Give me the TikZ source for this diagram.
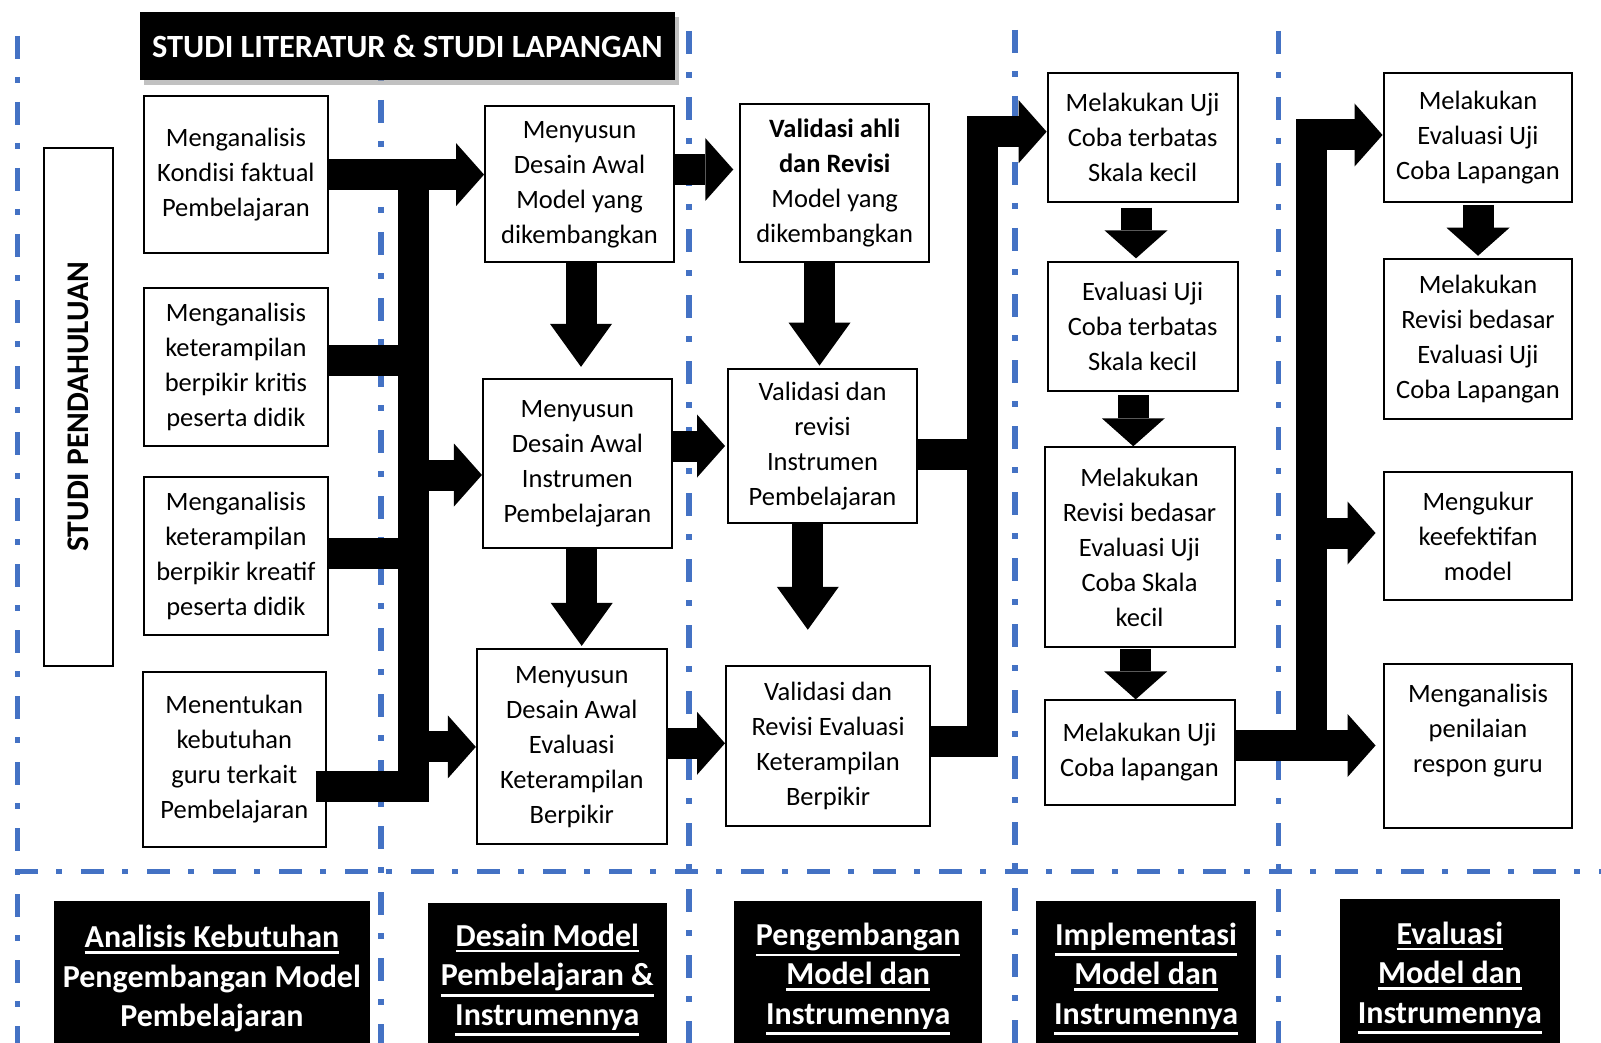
\documentclass[tikz,border=0pt]{standalone}
\usepackage{fontspec}
\setmainfont{Carlito}
\usepackage{tikz}
\usetikzlibrary{arrows.meta,shadows}
\definecolor{guideblue}{HTML}{4472C4}
\newcommand{\ulbar}[1]{\setbox0=\hbox{#1}\leavevmode\rlap{\rule[\dimexpr-\dp0-5.5pt\relax]{\wd0}{2.5pt}}\box0}

\begin{document}
\begin{tikzpicture}[x=1pt,y=-1pt,
    procbox/.style={draw,fill=white,line width=2pt,inner sep=0pt,align=center,font=\fontsize{26.5}{35}\selectfont},
    phasebox/.style={fill=black,text=white,inner sep=0pt,align=center,font=\bfseries\fontsize{32}{39.5}\selectfont},
    guide/.style={guideblue,line width=5.5pt,dash pattern=on 23pt off 18pt on 6pt off 19pt},
    fat/.style={line width=31pt},
    flow/.style={fat,-{Triangle[length=28pt,width=63pt,line width=0pt]}},
    drop/.style={fat,-{Triangle[length=43pt,width=62pt,line width=0pt]}}]
        \useasboundingbox[fill=white] (0,0) rectangle (1601,1043);
        \draw[guide] (17.4,36) -- (17.4,1043);
        \draw[guide] (380.8,34) -- (380.8,1043);
        \draw[guide] (689.2,31) -- (689.2,1043);
        \draw[guide] (1014.9,30) -- (1014.9,1043);
        \draw[guide] (1278.4,31) -- (1278.4,1043);
        \draw[guide] (15,871.7) -- (1601,871.7);
        \draw (407.4,46) node (title) [phasebox,font=\bfseries\fontsize{32.4}{39.5}\selectfont,drop shadow={shadow xshift=4pt,shadow yshift=-5pt,fill=black!40,opacity=0.6},minimum width=535pt,minimum height=67.3pt] {STUDI LITERATUR \& STUDI LAPANGAN};
        \draw (78.6,406.9) node (SP) [procbox,rotate=90,minimum width=517.6pt,minimum height=69.4pt,font=\bfseries\fontsize{31.5}{39.5}\selectfont] {STUDI PENDAHULUAN};
        \draw (235.9,174.6) node (B1) [procbox,minimum width=183.8pt,minimum height=157.2pt] {Menganalisis\\Kondisi faktual\\Pembelajaran};
        \draw (235.9,367.1) node (B2) [procbox,minimum width=183.8pt,minimum height=158.3pt] {Menganalisis\\keterampilan\\berpikir kritis\\peserta didik};
        \draw (235.9,556.0) node (B3) [procbox,minimum width=183.8pt,minimum height=158.3pt] {Menganalisis\\keterampilan\\berpikir kreatif\\peserta didik};
        \draw (234.3,759.2) node (B4) [procbox,minimum width=182.8pt,minimum height=174.6pt] {Menentukan\\kebutuhan\\guru terkait\\Pembelajaran};
        \draw (579.5,184.3) node (C1) [procbox,minimum width=188.9pt,minimum height=156.2pt] {Menyusun\\Desain Awal\\Model yang\\dikembangkan};
        \draw (577.4,463.6) node (C2) [procbox,minimum width=188.9pt,minimum height=169.5pt] {Menyusun\\Desain Awal\\Instrumen\\Pembelajaran};
        \draw (571.8,746.9) node (C3) [procbox,minimum width=189.9pt,minimum height=195pt] {Menyusun\\Desain Awal\\Evaluasi\\Keterampilan\\Berpikir};
        \draw (834.7,183.3) node (D1) [procbox,minimum width=188.9pt,minimum height=158.3pt] {\textbf{Validasi ahli}\\\textbf{dan Revisi}\\Model yang\\dikembangkan};
        \draw (822.5,445.7) node (D2) [procbox,minimum width=188.9pt,minimum height=154.2pt] {Validasi dan\\revisi\\Instrumen\\Pembelajaran};
        \draw (828.1,745.9) node (D3) [procbox,minimum width=204.2pt,minimum height=160.3pt] {Validasi dan\\Revisi Evaluasi\\Keterampilan\\Berpikir};
        \draw (1142.6,137.8) node (E1) [procbox,minimum width=189.9pt,minimum height=128.7pt] {Melakukan Uji\\Coba terbatas\\Skala kecil};
        \draw (1142.6,326.7) node (E2) [procbox,minimum width=189.9pt,minimum height=128.7pt] {Evaluasi Uji\\Coba terbatas\\Skala kecil};
        \draw (1139.5,547.3) node (E3) [procbox,minimum width=190pt,minimum height=200.1pt] {Melakukan\\Revisi bedasar\\Evaluasi Uji\\Coba Skala\\kecil};
        \draw (1139.5,752.5) node (E4) [procbox,minimum width=190pt,minimum height=104.2pt] {Melakukan Uji\\Coba lapangan};
        \draw (1478,137.8) node (F1) [procbox,minimum width=188.9pt,minimum height=128.7pt] {Melakukan\\Evaluasi Uji\\Coba Lapangan};
        \draw (1478,339.0) node (F2) [procbox,minimum width=188.9pt,minimum height=159.3pt] {Melakukan\\Revisi bedasar\\Evaluasi Uji\\Coba Lapangan};
        \draw (1478,536.0) node (F3) [procbox,minimum width=188.9pt,minimum height=128.7pt] {Mengukur\\keefektifan\\model};
        \draw (1478,745.9) node (F4) [procbox,minimum width=188.9pt,minimum height=164.4pt] {Menganalisis\\penilaian\\respon guru\\\mbox{}};
        \draw (211.9,978.8) node (G1) [phasebox,minimum width=315.5pt,minimum height=156.4pt] {\ulbar{Analisis Kebutuhan}\\Pengembangan Model\\Pembelajaran};
        \draw (547.3,979.8) node (G2) [phasebox,minimum width=238.9pt,minimum height=154.4pt] {\ulbar{Desain Model}\\\ulbar{Pembelajaran \&}\\\ulbar{Instrumennya}};
        \draw (858.2,978.8) node (G3) [phasebox,minimum width=248.1pt,minimum height=156.4pt] {\ulbar{Pengembangan}\\\ulbar{Model dan}\\\ulbar{Instrumennya}};
        \draw (1146.1,978.8) node (G4) [phasebox,minimum width=219.5pt,minimum height=156.4pt] {\ulbar{Implementasi}\\\ulbar{Model dan}\\\ulbar{Instrumennya}};
        \draw (1449.9,977.8) node (G5) [phasebox,minimum width=220.6pt,minimum height=158.5pt] {\ulbar{Evaluasi}\\\ulbar{Model dan}\\\ulbar{Instrumennya}};
        \coordinate (Ltop) at (413.5,174.6);
        \coordinate (Lfoot) at (315.7,786.5);
        \draw[flow] (B1.east) -- (B1.east -| C1.west);
        \draw[fat] (Lfoot) -| (Ltop);
        \draw[fat] (B2.east |- 0,360) -- (Ltop |- 0,360);
        \draw[fat] (B3.east |- 0,553) -- (Ltop |- 0,553);
        \draw[flow] (Ltop |- 0,475) -- (C2.west |- 0,475);
        \draw[flow] (Ltop |- C3.west) -- (C3.west);
        \draw[drop,shorten >=11pt] (C1.south -| 581,0) -- (C2.north -| 581,0);
        \draw[drop,shorten >=2.5pt] (C2.south -| 581.7,0) -- (C3.north -| 581.7,0);
        \draw[flow,shorten >=6pt] (C1.east |- 0,169.5) -- (D1.west |- 0,169.5);
        \draw[drop,shorten >=2pt] (D1.south -| 819.5,0) -- (D2.north -| 819.5,0);
        \draw[flow,shorten >=2pt] (C2.east |- 0,446) -- (D2.west |- 0,446);
        \draw[drop,shorten >=35pt] (D2.south -| 807.8,0) -- (D3.north -| 807.8,0);
        \draw[flow] (C3.east |- 0,743.3) -- (D3.west |- 0,743.3);
        \coordinate (Mtop) at (982.2,131.7);
        \draw[flow] (D3.east |- 0,741.7) -| (Mtop) -- (E1.west |- Mtop);
        \draw[fat] (D2.east |- 0,454.5) -- (Mtop |- 0,454.5);
        \draw[flow,shorten <=4.5pt,shorten >=3pt] (E1.south -| 1136,0) -- (E2.north -| 1136,0);
        \draw[flow,shorten <=3pt] (E2.south -| 1133.3,0) -- (E3.north -| 1133.3,0);
        \draw[flow,shorten <=1pt] (E3.south -| 1135.7,0) -- (E4.north -| 1135.7,0);
        \draw[flow,shorten <=2pt,shorten >=2.6pt] (F1.south) -- (F2.north);
        \coordinate (Rtop) at (1311.2,135);
        \coordinate (Rfoot) at (1311.2,745.5);
        \draw[flow,shorten >=7pt] (E4.east |- Rfoot) -- (F4.west |- Rfoot);
        \draw[flow] (Rfoot) -- (Rtop) -- (F1.west |- Rtop);
        \draw[flow,shorten >=7pt] (Rtop |- 0,533) -- (F3.west |- 0,533);
    \end{tikzpicture}
\end{document}
